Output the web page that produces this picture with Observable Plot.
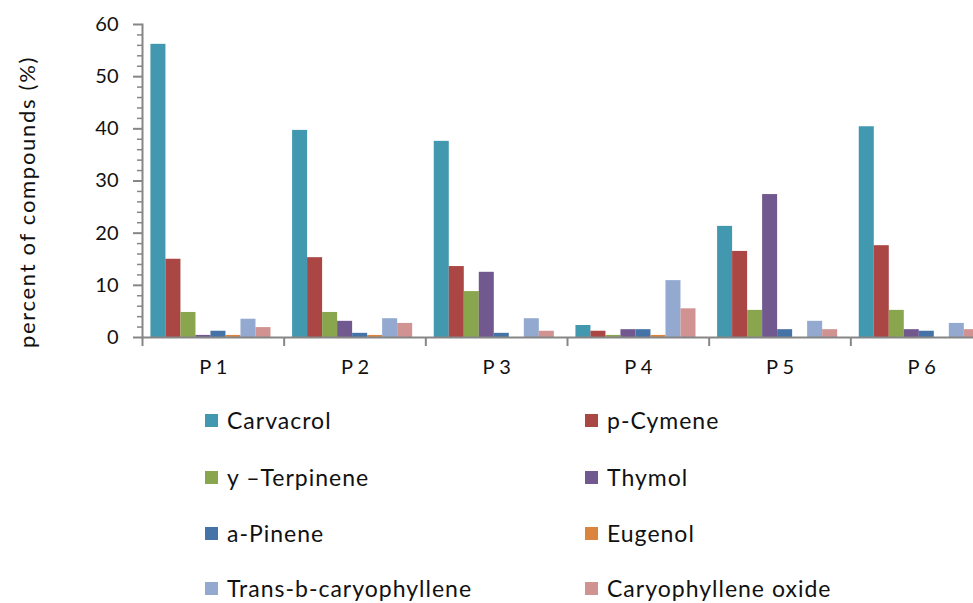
<!DOCTYPE html>
<html>
<head>
<meta charset="utf-8">
<script src="https://cdn.jsdelivr.net/npm/d3@7"></script>
<script src="https://cdn.jsdelivr.net/npm/@observablehq/plot@0.6"></script>
<style>
  html, body { margin: 0; padding: 0; background: #fff; overflow: hidden; }
  #wrap { position: relative; width: 973px; height: 603px; overflow: hidden; font-family: Lato, "Open Sans", sans-serif; }
  #chart { position: absolute; left: 0; top: 0; }
  #ytitle { position: absolute; left: 26px; top: 202px; transform: translate(-50%, -50%) rotate(-90deg); white-space: nowrap; font-size: 22px; letter-spacing: 1.7px; color: #111; }
  .leg { position: absolute; display: flex; align-items: center; font-size: 23px; line-height: 24px; height: 24px; letter-spacing: 1px; color: #111; white-space: nowrap; }
  .sw { width: 13px; height: 13px; margin-right: 9px; }
</style>
</head>
<body>
<div id="wrap">
  <div id="chart"></div>
  <div id="ytitle">percent of compounds (%)</div>
  <div id="legend"></div>
</div>
<script>
const groups = ["P 1", "P 2", "P 3", "P 4", "P 5", "P 6"];
const compounds = ["Carvacrol", "p-Cymene", "y –Terpinene", "Thymol", "a-Pinene", "Eugenol", "Trans-b-caryophyllene", "Caryophyllene oxide"];
const colors = ["#4198AF", "#AA4643", "#89A54E", "#71588F", "#4572A7", "#DB843D", "#93A9CF", "#D19392"];

const carvacrol = [56.2, 39.7, 37.6, 2.3, 21.3, 40.4];
const pCymene   = [15.0, 15.3, 13.6, 1.2, 16.5, 17.6];
const terpinene = [4.8, 4.8, 8.8, 0.4, 5.2, 5.2];
const thymol    = [0.4, 3.1, 12.5, 1.5, 27.4, 1.5];
const aPinene   = [1.2, 0.8, 0.8, 1.5, 1.5, 1.2];
const eugenol   = [0.4, 0.4, 0, 0.4, 0, 0];
const transB    = [3.5, 3.6, 3.6, 10.9, 3.1, 2.7];
const caryOxide = [1.9, 2.7, 1.2, 5.5, 1.5, 1.5];

const yMajor = [0, 10, 20, 30, 40, 50, 60];
const yMinor = d3.range(0, 61, 2).filter(v => v % 10 !== 0);

const series = [carvacrol, pCymene, terpinene, thymol, aPinene, eugenol, transB, caryOxide];
const data = [];
series.forEach((vals, i) => vals.forEach((v, j) => data.push({group: groups[j], compound: compounds[i], value: v})));

const W = 992, ML = 142;
const bw = (W - ML) / groups.length;
const axisColor = "#868686";

const chart = Plot.plot({
  width: W,
  height: 390,
  marginLeft: ML,
  marginRight: 0,
  marginTop: 24,
  marginBottom: 53,
  style: {fontFamily: "Lato, 'Open Sans', sans-serif", maxWidth: "none", overflow: "visible", background: "transparent"},
  fx: {domain: groups, padding: 0, round: false},
  x: {domain: compounds, paddingInner: 0, paddingOuter: 0.72, align: 0.39, round: false, axis: null},
  y: {domain: [0, 60]},
  color: {domain: compounds, range: colors},
  marks: [
    Plot.barY(data, {fx: "group", x: "compound", y: "value", fill: "compound"}),
    Plot.ruleY([0], {stroke: axisColor, strokeWidth: 2}),
    Plot.frame({anchor: "left", stroke: axisColor, strokeWidth: 2, facetAnchor: "left"}),
    Plot.axisY({ticks: yMinor, tickSize: 5, tickFormat: () => "", stroke: axisColor, strokeWidth: 1.5, label: null}),
    Plot.axisY({ticks: yMajor, tickSize: 9, tickPadding: 15, fontSize: 20, stroke: axisColor, strokeWidth: 2, fill: "#111", label: null}),
    Plot.axisFx({anchor: "bottom", tickSize: 9, tickFormat: () => "", dx: -bw / 2, stroke: axisColor, strokeWidth: 2, label: null}),
    Plot.axisFx({anchor: "bottom", tickSize: 0, tickPadding: 22, fontSize: 20, fill: "#111", label: null})
  ]
});
document.getElementById("chart").appendChild(chart);

// Legend (two columns)
const legend = document.getElementById("legend");
const colX = [205, 585];
const rowY = [420, 477, 533, 588];
compounds.forEach((c, i) => {
  const el = document.createElement("div");
  el.className = "leg";
  el.style.left = colX[i % 2] + "px";
  el.style.top = (rowY[Math.floor(i / 2)] - 12) + "px";
  const sw = document.createElement("span");
  sw.className = "sw";
  sw.style.background = colors[i];
  const t = document.createElement("span");
  t.textContent = c;
  el.appendChild(sw);
  el.appendChild(t);
  legend.appendChild(el);
});
</script>
</body>
</html>
